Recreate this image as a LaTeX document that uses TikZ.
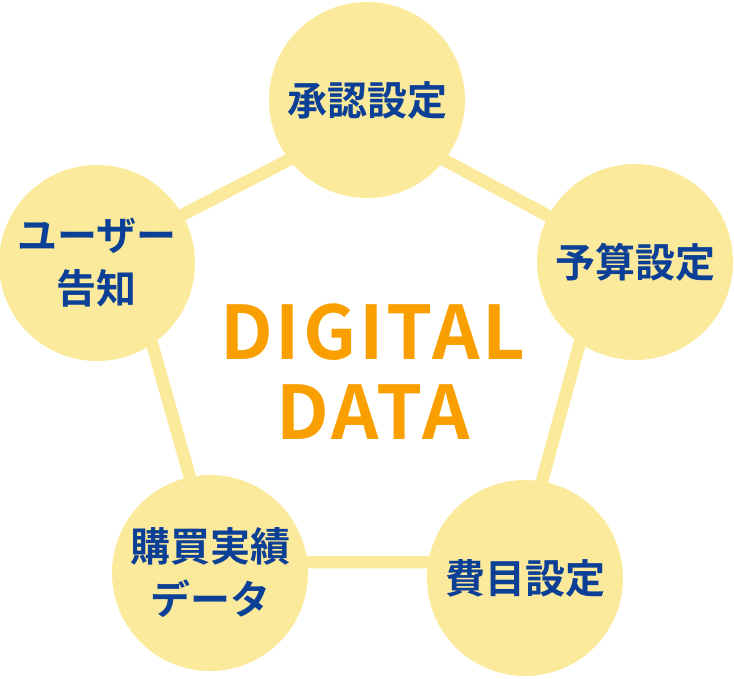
\documentclass[tikz,border=0pt]{standalone}
\usepackage{fontspec}
\newfontfamily\jpfont{Noto Sans CJK JP Bold}
\newfontfamily\titlefont[LetterSpace=4]{Noto Sans CJK JP Bold}
\definecolor{circfill}{HTML}{FBEA9C}
\definecolor{linkcol}{HTML}{FBEA9C}
\definecolor{txtblue}{HTML}{0C3F96}
\definecolor{txtorange}{HTML}{F9A000}
\tikzset{
  topic/.style={circle, fill=circfill, minimum size=196pt, inner sep=0pt,
    text=txtblue, align=center, font=\jpfont\fontsize{40}{53}\selectfont},
  link/.style={draw=linkcol, line width=12.5pt},
}
\begin{document}
\begin{tikzpicture}[x=1pt,y=-1pt]
\useasboundingbox (0,0) rectangle (734,678);
% corners of the pentagon of links
\coordinate (pT) at (368,119);
\coordinate (pR) at (606,247);
\coordinate (pBR) at (520,562);
\coordinate (pBL) at (214,562);
\coordinate (pL) at (124,245);
\draw[link] (pT) -- (pR) -- (pBR) -- (pBL) -- (pL) -- cycle;
\node[topic] (n1) at (367,100) {承認設定};
\node[topic] (n2) at (635,262) {予算設定};
\node[topic] (n3) at (525,578) {費目設定};
\node[topic] (n4) at (210,573) {購買実績\\データ};
\node[topic] (n5) at (97,263) {ユーザー\\告知};
\node[text=txtorange, align=center, font=\titlefont\fontsize{74}{80}\selectfont] (c) at (373,372) {DIGITAL\\DATA};
\end{tikzpicture}
\end{document}
